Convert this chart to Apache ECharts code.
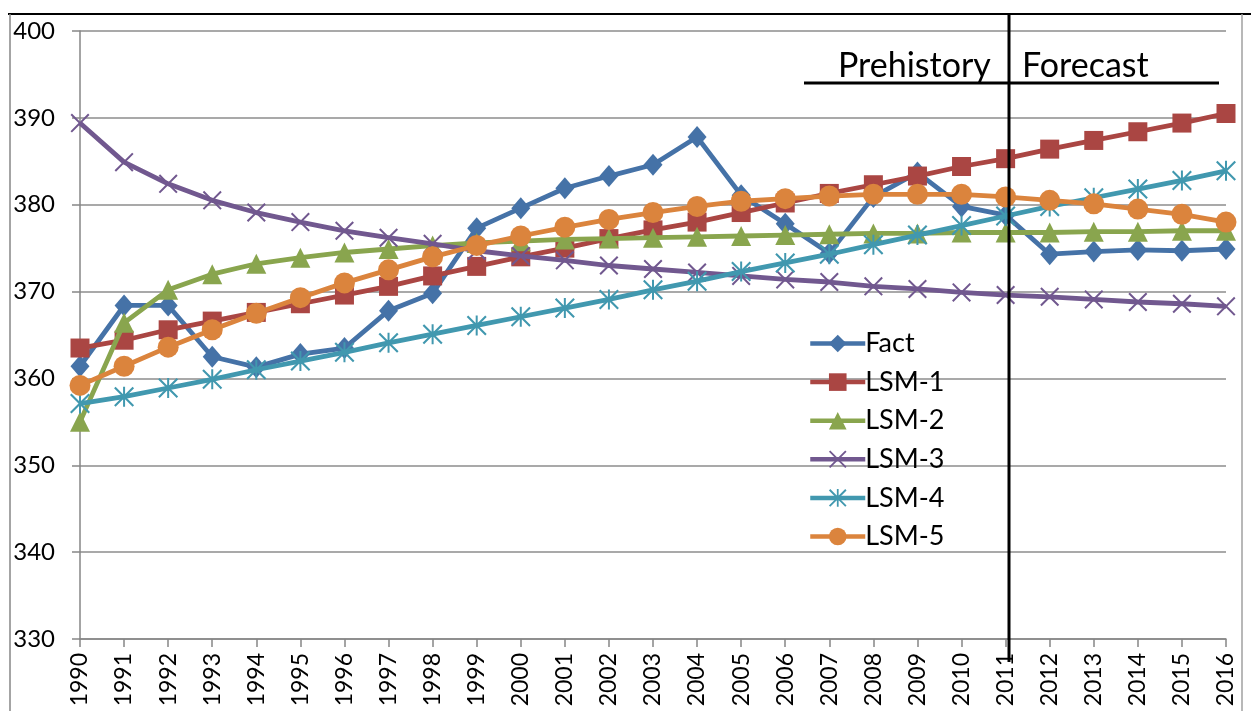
<!DOCTYPE html>
<html><head><meta charset="utf-8">
<script src="https://cdn.jsdelivr.net/npm/echarts@6/dist/echarts.min.js"></script>
<style>html,body{margin:0;padding:0;background:#fff}#c{width:1251px;height:711px}</style>
</head><body><div id="c"></div>
<script>
const years = ['1990','1991','1992','1993','1994','1995','1996','1997','1998','1999','2000','2001','2002','2003','2004','2005','2006','2007','2008','2009','2010','2011','2012','2013','2014','2015','2016'];
const yTicks = [330,340,350,360,370,380,390,400];
const fact = [361.4,368.4,368.4,362.5,361.3,362.8,363.5,367.8,369.8,377.3,379.6,381.9,383.3,384.6,387.8,381.1,377.8,374.4,380.9,383.7,379.8,378.8,374.3,374.6,374.8,374.7,374.9];
const lsm1 = [363.5,364.4,365.6,366.6,367.6,368.6,369.6,370.6,371.8,372.9,374.0,375.0,376.1,377.1,378.0,379.1,380.2,381.3,382.3,383.3,384.4,385.3,386.4,387.4,388.4,389.4,390.5];
const lsm2 = [355.0,366.4,370.2,372.0,373.2,373.9,374.5,374.9,375.3,375.6,375.8,376.0,376.1,376.2,376.3,376.4,376.5,376.6,376.7,376.7,376.8,376.8,376.8,376.9,376.9,377.0,377.0];
const lsm3 = [389.4,384.9,382.4,380.5,379.1,378.0,377.0,376.2,375.5,374.7,374.1,373.6,373.0,372.6,372.2,371.8,371.4,371.1,370.6,370.3,369.9,369.6,369.4,369.1,368.8,368.6,368.3];
const lsm4 = [357.1,357.9,358.9,359.9,361.0,362.0,363.0,364.1,365.1,366.1,367.1,368.1,369.1,370.2,371.2,372.3,373.3,374.3,375.4,376.5,377.6,378.7,379.8,380.8,381.8,382.8,383.9];
const lsm5 = [359.2,361.4,363.6,365.6,367.5,369.3,371.0,372.5,374.0,375.3,376.4,377.4,378.3,379.1,379.8,380.4,380.7,381.0,381.2,381.2,381.2,380.9,380.5,380.1,379.5,378.9,378.0];
const seriesNames = ['Fact','LSM-1','LSM-2','LSM-3','LSM-4','LSM-5'];
const colors = ['#4572A7','#AA4643','#89A54E','#71588F','#4198AF','#DB843D'];

const xPath = 'path://M0,1.5 L1.5,0 L10,8.5 L18.5,0 L20,1.5 L11.5,10 L20,18.5 L18.5,20 L10,11.5 L1.5,20 L0,18.5 L8.5,10 Z';
const starPath = 'path://M0,1.5 L1.5,0 L10,8.5 L18.5,0 L20,1.5 L11.5,10 L20,18.5 L18.5,20 L10,11.5 L1.5,20 L0,18.5 L8.5,10 Z M9,0 L11,0 L11,20 L9,20 Z';
const symbols = ['diamond','rect','triangle',xPath,starPath,'circle'];
const sizes = [[19,22],19,20,19,20,21];
const datas = [fact,lsm1,lsm2,lsm3,lsm4,lsm5];
const font = 'Lato, "Open Sans", sans-serif';

const chart = echarts.init(document.getElementById('c'));
chart.setOption({
  animation: false,
  backgroundColor: '#fff',
  grid: {left: 80, right: 25, top: 31, bottom: 72},
  legend: {
    orient: 'vertical', left: 803, top: 325,
    itemWidth: 55, itemHeight: 22, itemGap: 11.6,
    lineStyle: {width: 4.5},
    textStyle: {fontSize: 27, lineHeight: 27, fontFamily: font, color: '#000', padding: [0,0,0,-5]},
    data: seriesNames
  },
  xAxis: {
    type: 'category', data: years, boundaryGap: false,
    axisLine: {lineStyle: {color: '#868686', width: 1.5}},
    axisTick: {show: true, length: 8, alignWithLabel: true, lineStyle: {color: '#868686', width: 1.5}},
    axisLabel: {rotate: 90, fontSize: 23, fontFamily: font, color: '#000', margin: 14, interval: 0},
    splitLine: {show: false}
  },
  yAxis: {
    type: 'value', min: yTicks[0], max: yTicks[yTicks.length-1], interval: 10,
    axisLine: {show: true, lineStyle: {color: '#868686', width: 1.5}},
    axisTick: {show: true, length: 8, lineStyle: {color: '#868686', width: 1.5}},
    axisLabel: {fontSize: 24, fontFamily: font, color: '#000', margin: 25},
    splitLine: {show: true, lineStyle: {color: '#8c8c8c', width: 1.5}}
  },
  series: seriesNames.map((n,i) => ({
    name: n, type: 'line', data: datas[i],
    symbol: symbols[i], symbolSize: sizes[i], showAllSymbol: true,
    lineStyle: {color: colors[i], width: 4.8},
    itemStyle: {color: colors[i]},
    z: 2 + i
  })),
  graphic: [
    {type: 'line', shape: {x1: 8, y1: 14, x2: 1251, y2: 14}, style: {stroke: '#000', lineWidth: 2}},
    {type: 'line', shape: {x1: 10, y1: 14, x2: 10, y2: 711}, style: {stroke: '#868686', lineWidth: 1.5}},
    {type: 'line', shape: {x1: 1242, y1: 14, x2: 1242, y2: 711}, style: {stroke: '#a0a0a0', lineWidth: 1.5}},
    {type: 'line', shape: {x1: 1009, y1: 14, x2: 1009, y2: 662}, style: {stroke: '#000', lineWidth: 3}, z: 100},
    {type: 'line', shape: {x1: 804, y1: 83, x2: 1219, y2: 83}, style: {stroke: '#000', lineWidth: 3}, z: 100},
    {type: 'text', left: 838, top: 49, style: {text: 'Prehistory', fontSize: 34, fontFamily: font, fill: '#000'}, z: 100},
    {type: 'text', left: 1022, top: 49, style: {text: 'Forecast', fontSize: 34, fontFamily: font, fill: '#000'}, z: 100}
  ]
});
</script></body></html>
